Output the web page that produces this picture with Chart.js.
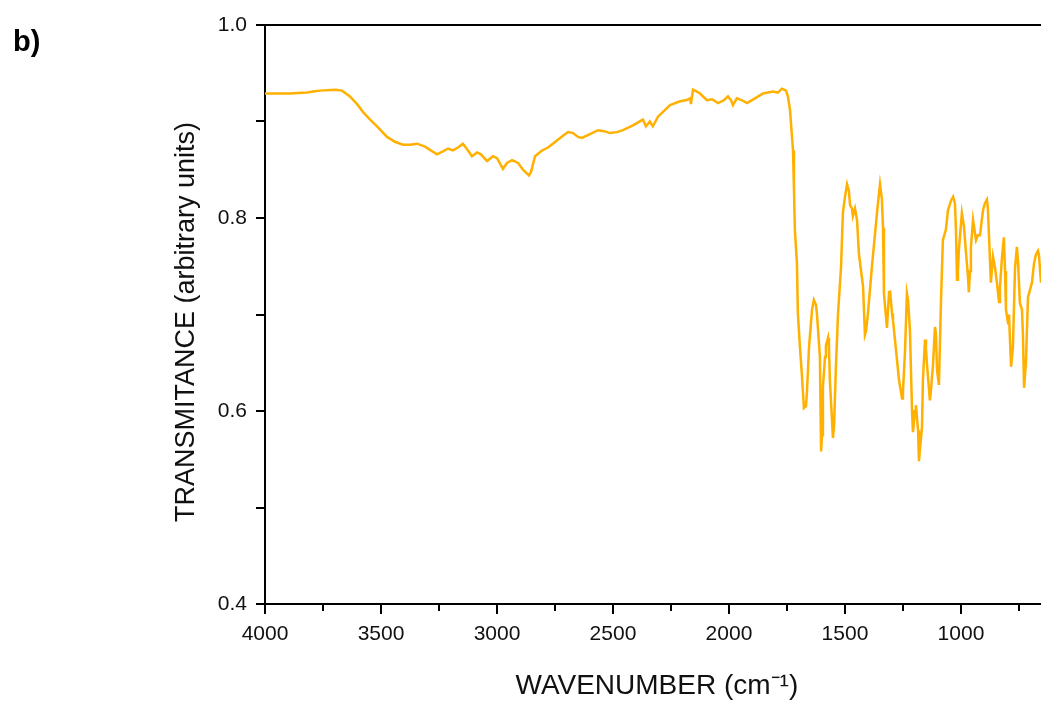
<!DOCTYPE html>
<html>
<head>
<meta charset="utf-8">
<script src="https://cdn.jsdelivr.net/npm/chart.js@4.4.0/dist/chart.umd.min.js"></script>
<style>
  html, body { margin: 0; padding: 0; background: #fff; }
  #wrap { position: relative; width: 1041px; height: 701px; }
  #panel { position: absolute; left: 13px; top: 27px; font: bold 29px 'Liberation Sans', Arial, sans-serif; line-height: 29px; color: #000; }
</style>
</head>
<body>
<div id="wrap">
  <canvas id="ftir" width="1041" height="701"></canvas>
  <div id="panel">b)</div>
</div>
<script>
// FTIR spectrum (wavenumber in cm-1, transmittance)
const wavenumbers = [
  4000, 3892, 3819, 3793, 3763, 3698, 3668, 3634, 3603, 3578, 3547, 3517, 3474, 3440, 3405, 3375,
  3345, 3310, 3259, 3233, 3211, 3190, 3168, 3147, 3125, 3108, 3086, 3069, 3043, 3017, 3000, 2974,
  2957, 2935, 2909, 2888, 2862, 2853, 2836, 2806, 2780, 2759, 2728, 2694, 2672, 2651, 2634, 2599,
  2565, 2539, 2513, 2483, 2457, 2414, 2371, 2358, 2341, 2328, 2306, 2280, 2254, 2211, 2185, 2168,
  2164, 2155, 2138, 2125, 2108, 2095, 2073, 2047, 2022, 2004, 1991, 1983, 1966, 1944, 1922, 1888,
  1853, 1810, 1789, 1772, 1754, 1746, 1737, 1724, 1720, 1716, 1707, 1703, 1694, 1685, 1677, 1668,
  1664, 1655, 1642, 1634, 1625, 1621, 1608, 1603, 1599, 1595, 1586, 1582, 1573, 1569, 1565, 1556,
  1552, 1547, 1539, 1530, 1517, 1509, 1500, 1491, 1483, 1478, 1470, 1466, 1457, 1448, 1440, 1422,
  1414, 1409, 1401, 1384, 1366, 1358, 1349, 1341, 1336, 1332, 1319, 1310, 1306, 1297, 1293, 1280,
  1267, 1254, 1250, 1241, 1233, 1228, 1220, 1211, 1207, 1198, 1194, 1185, 1181, 1177, 1168, 1164,
  1155, 1151, 1147, 1134, 1130, 1121, 1112, 1108, 1103, 1095, 1086, 1078, 1065, 1056, 1043, 1034,
  1026, 1022, 1017, 1013, 1009, 996, 987, 978, 970, 966, 961, 957, 948, 940, 935, 927,
  918, 905, 897, 888, 884, 879, 871, 862, 853, 845, 836, 832, 823, 815, 810, 806,
  797, 793, 784, 776, 767, 759, 754, 746, 737, 733, 728, 720, 716, 711, 703, 694,
  685, 677, 668, 664, 655
];
const transmittance = [
  0.929, 0.929, 0.930, 0.931, 0.932, 0.933, 0.932, 0.926, 0.918, 0.910, 0.902, 0.895, 0.884, 0.879, 0.876, 0.876,
  0.877, 0.874, 0.866, 0.869, 0.872, 0.870, 0.873, 0.877, 0.870, 0.864, 0.868, 0.866, 0.859, 0.864, 0.862, 0.851,
  0.857, 0.860, 0.857, 0.850, 0.844, 0.848, 0.864, 0.870, 0.873, 0.877, 0.883, 0.889, 0.888, 0.884, 0.883, 0.887,
  0.891, 0.890, 0.888, 0.889, 0.891, 0.896, 0.902, 0.895, 0.900, 0.895, 0.905, 0.911, 0.917, 0.921, 0.922, 0.924,
  0.918, 0.933, 0.931, 0.929, 0.925, 0.922, 0.923, 0.919, 0.922, 0.926, 0.922, 0.917, 0.924, 0.922, 0.919, 0.924,
  0.929, 0.931, 0.930, 0.934, 0.932, 0.926, 0.912, 0.870, 0.832, 0.788, 0.753, 0.701, 0.666, 0.635, 0.603, 0.605,
  0.619, 0.666, 0.705, 0.715, 0.710, 0.701, 0.656, 0.558, 0.575, 0.625, 0.656, 0.668, 0.676, 0.665, 0.632, 0.591,
  0.572, 0.585, 0.646, 0.701, 0.749, 0.805, 0.822, 0.835, 0.828, 0.813, 0.810, 0.802, 0.810, 0.798, 0.763, 0.729,
  0.679, 0.683, 0.701, 0.749, 0.795, 0.815, 0.835, 0.820, 0.790, 0.722, 0.686, 0.723, 0.725, 0.701, 0.694, 0.663,
  0.632, 0.613, 0.620, 0.663, 0.722, 0.715, 0.684, 0.601, 0.578, 0.600, 0.606, 0.580, 0.548, 0.560, 0.583, 0.632,
  0.674, 0.665, 0.650, 0.611, 0.620, 0.646, 0.687, 0.680, 0.642, 0.627, 0.715, 0.777, 0.788, 0.808, 0.818, 0.822,
  0.815, 0.791, 0.736, 0.745, 0.767, 0.805, 0.791, 0.763, 0.740, 0.723, 0.745, 0.770, 0.798, 0.785, 0.777, 0.782,
  0.782, 0.808, 0.815, 0.819, 0.810, 0.780, 0.733, 0.760, 0.748, 0.733, 0.713, 0.728, 0.760, 0.780, 0.745, 0.705,
  0.691, 0.700, 0.646, 0.666, 0.748, 0.770, 0.755, 0.712, 0.705, 0.680, 0.624, 0.650, 0.681, 0.718, 0.725, 0.733,
  0.753, 0.762, 0.766, 0.762, 0.733
];
const xTicks = [4000, 3750, 3500, 3250, 3000, 2750, 2500, 2250, 2000, 1750, 1500, 1250, 1000, 750];
const yTicks = [0.4, 0.5, 0.6, 0.7, 0.8, 0.9, 1.0];

const FONT = "'Liberation Sans', Arial, sans-serif";

// outward tick marks (short minor ones on x) + top frame line
const axisDecor = {
    id: 'axisDecor',
    afterDraw(chart) {
        const { ctx, chartArea: a, scales: { x, y } } = chart;
        ctx.save();
        ctx.strokeStyle = '#000';
        ctx.lineWidth = 2;
        ctx.beginPath();
        ctx.moveTo(a.left, a.top);
        ctx.lineTo(a.right, a.top);
        yTicks.forEach(v => {
            const py = Math.round(y.getPixelForValue(v));
            ctx.moveTo(a.left - 9, py);
            ctx.lineTo(a.left, py);
        });
        xTicks.forEach(v => {
            const px = Math.round(x.getPixelForValue(v));
            const len = v % 500 === 0 ? 10 : 7;
            ctx.moveTo(px, a.bottom);
            ctx.lineTo(px, a.bottom + len);
        });
        ctx.stroke();
        ctx.restore();
    }
};

new Chart(document.getElementById('ftir').getContext('2d'), {
    type: 'line',
    data: {
        datasets: [{
            data: wavenumbers.map((w, i) => ({ x: w, y: transmittance[i] })),
            borderColor: '#FFB000',
            borderWidth: 2.5,
            pointRadius: 0,
            tension: 0,
            fill: false
        }]
    },
    options: {
        responsive: false,
        animation: false,
        layout: { padding: { top: 25, left: 0, right: 0, bottom: 0 } },
        plugins: { legend: { display: false }, tooltip: { enabled: false } },
        scales: {
            x: {
                type: 'linear',
                reverse: true,
                min: 655,
                max: 4000,
                afterBuildTicks: s => { s.ticks = xTicks.map(v => ({ value: v })); },
                afterFit: s => { s.height = 97; s.paddingLeft = 0; s.paddingRight = 0; },
                grid: { display: false, drawTicks: false },
                border: { display: true, color: '#000', width: 2 },
                ticks: {
                    padding: 18,
                    color: '#111',
                    font: { family: FONT, size: 21 },
                    maxRotation: 0,
                    autoSkip: false,
                    callback: v => (v % 500 === 0 ? String(v) : '')
                },
                title: {
                    display: true,
                    text: ' WAVENUMBER (cm⁻¹)',
                    color: '#111',
                    font: { family: FONT, size: 28, lineHeight: 1 },
                    padding: { top: 0, bottom: 1 }
                }
            },
            y: {
                min: 0.4,
                max: 1.0,
                afterBuildTicks: s => { s.ticks = yTicks.map(v => ({ value: v })); },
                afterFit: s => { s.width = 265; s.paddingTop = 0; s.paddingBottom = 0; },
                grid: { display: false, drawTicks: false },
                border: { display: true, color: '#000', width: 2 },
                ticks: {
                    padding: 18,
                    color: '#111',
                    font: { family: FONT, size: 21 },
                    autoSkip: false,
                    callback: v => (Math.round(v * 10) % 2 === 0 ? v.toFixed(1) : '')
                },
                title: {
                    display: true,
                    text: 'TRANSMITANCE (arbitrary units)  ',
                    color: '#111',
                    font: { family: FONT, size: 27, lineHeight: 1 },
                    padding: { top: 173, bottom: 0 }
                }
            }
        }
    },
    plugins: [axisDecor]
});
</script>
</body>
</html>
